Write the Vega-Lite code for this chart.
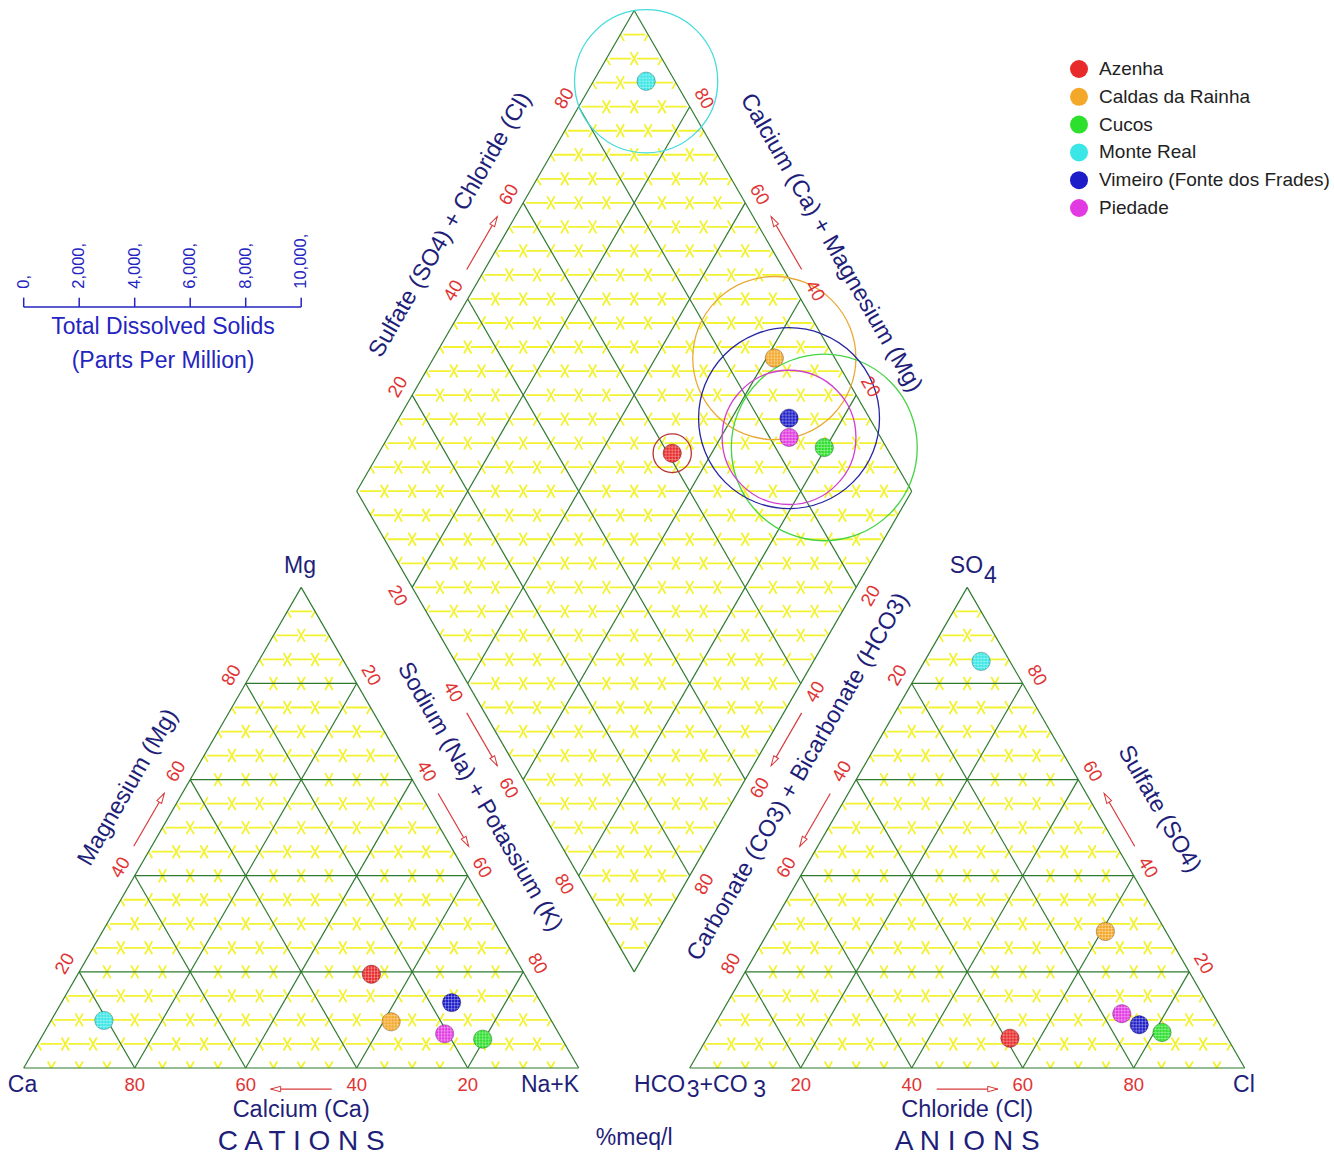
{
  "$schema": "https://vega.github.io/schema/vega-lite/v6.json",
  "width": 1334,
  "height": 1158,
  "padding": 0,
  "autosize": "none",
  "background": "white",
  "config": {
    "view": {"stroke": null},
    "text": {"font": "Liberation Sans"},
    "legend": {"labelFont": "Liberation Sans"}
  },
  "datasets": {
    "samples": [
      {"site": "Azenha", "Ca": 27.6, "Mg": 19.5, "NaK": 52.9, "HCO3": 39.2, "SO4": 6.2, "Cl": 54.6, "TDS": 690},
      {"site": "Caldas da Rainha", "Ca": 29.0, "Mg": 9.6, "NaK": 61.4, "HCO3": 10.9, "SO4": 28.4, "Cl": 60.7, "TDS": 2940},
      {"site": "Cucos", "Ca": 14.3, "Mg": 6.0, "NaK": 79.7, "HCO3": 11.2, "SO4": 7.4, "Cl": 81.4, "TDS": 3350},
      {"site": "Monte Real", "Ca": 80.6, "Mg": 9.9, "NaK": 9.5, "HCO3": 5.2, "SO4": 84.6, "Cl": 10.2, "TDS": 2580},
      {"site": "Vimeiro (Fonte dos Frades)", "Ca": 16.1, "Mg": 13.6, "NaK": 70.3, "HCO3": 14.5, "SO4": 9.0, "Cl": 76.5, "TDS": 3260},
      {"site": "Piedade", "Ca": 20.6, "Mg": 7.1, "NaK": 72.3, "HCO3": 16.5, "SO4": 11.3, "Cl": 72.2, "TDS": 2410}
    ],
    "lattice": [
      {"f": "h", "v": [0,5,10,15,20,25,30,35,40,45,50,55,60,65,70,75,80,85,90,95]},
      {"f": "b", "v": [0,5,10,15,20,25,30,35,40,45,50,55,60,65,70,75,80,85,90,95]},
      {"f": "c", "v": [0,5,10,15,20,25,30,35,40,45,50,55,60,65,70,75,80,85,90,95]},
      {"f": "n", "v": [0,5,10,15,20,25,30,35,40,45,50,55,60,65,70,75,80,85,90,95,100]},
      {"f": "s", "v": [0,5,10,15,20,25,30,35,40,45,50,55,60,65,70,75,80,85,90,95,100]},
      {"f": "L", "v": [25,30,35,40,45,50,55,60,65,70,75,80,85,90,95,100,105,110,115,120,125,130,135,140,145,150,155,160,165,170,175,180,185,190,195,200,205,210,215]}
    ],
    "edgeMarks": [
      {"e": "cb", "kind": "tick", "v": [20,40,60,80]},
      {"e": "cl", "kind": "tick", "v": [20,40,60,80]},
      {"e": "cr", "kind": "tick", "v": [20,40,60,80]},
      {"e": "ab", "kind": "tick", "v": [20,40,60,80]},
      {"e": "al", "kind": "tick", "v": [20,40,60,80]},
      {"e": "ar", "kind": "tick", "v": [20,40,60,80]},
      {"e": "dul", "kind": "tick", "v": [20,40,60,80]},
      {"e": "dur", "kind": "tick", "v": [20,40,60,80]},
      {"e": "dll", "kind": "tick", "v": [20,40,60,80]},
      {"e": "dlr", "kind": "tick", "v": [20,40,60,80]},
      {"e": "cb", "kind": "arrow", "v": [44.5,55.5]},
      {"e": "cl", "kind": "arrow", "v": [44.5,55.5]},
      {"e": "cr", "kind": "arrow", "v": [44.5,55.5]},
      {"e": "ab", "kind": "arrow", "v": [44.5,55.5]},
      {"e": "al", "kind": "arrow", "v": [44.5,55.5]},
      {"e": "ar", "kind": "arrow", "v": [44.5,55.5]},
      {"e": "dul", "kind": "arrow", "v": [44.5,55.5]},
      {"e": "dur", "kind": "arrow", "v": [44.5,55.5]},
      {"e": "dll", "kind": "arrow", "v": [44.5,55.5]},
      {"e": "dlr", "kind": "arrow", "v": [44.5,55.5]},
      {"e": "cl", "kind": "title", "v": [53.2], "d": 9.0, "t": "Magnesium (Mg)"},
      {"e": "cr", "kind": "title", "v": [48.8], "d": 9.0, "t": "Sodium (Na) + Potassium (K)"},
      {"e": "dul", "kind": "title", "v": [50.0], "d": 9.4, "t": "Sulfate (SO4) + Chloride (Cl)"},
      {"e": "dur", "kind": "title", "v": [46.0], "d": 9.8, "t": "Calcium (Ca) + Magnesium (Mg)"},
      {"e": "dlr", "kind": "title", "v": [54.8], "d": 8.0, "t": "Carbonate (CO3) + Bicarbonate (HCO3)"},
      {"e": "ar", "kind": "title", "v": [48.1], "d": 10.0, "t": "Sulfate (SO4)"},
      {"e": "cb", "kind": "title", "v": [50], "d": 7.6, "t": "Calcium (Ca)"},
      {"e": "ab", "kind": "title", "v": [50], "d": 7.6, "t": "Chloride (Cl)"},
      {"e": "cb", "kind": "caps", "v": [50], "d": 13.3, "t": "C A T I O N S"},
      {"e": "ab", "kind": "caps", "v": [50], "d": 13.3, "t": "A N I O N S"}
    ],
    "vertexLabels": [
      {"t": "Ca", "x": -0.22, "y": -3.06},
      {"t": "Na+K", "x": 94.83, "y": -3.06},
      {"t": "Mg", "x": 49.78, "y": 90.45},
      {"t": "Cl", "x": 219.87, "y": -3.06},
      {"t": "HCO", "x": 114.58, "y": -3.06},
      {"t": "3", "x": 120.6, "y": -4.02},
      {"t": "+CO", "x": 126.1, "y": -3.06},
      {"t": "3", "x": 132.6, "y": -4.02},
      {"t": "SO", "x": 169.86, "y": 90.45},
      {"t": "4", "x": 174.2, "y": 88.65},
      {"t": "%meq/l", "x": 110.0, "y": -12.61}
    ],
    "tdsTicks": [
      {"tds": 0}, {"tds": 2000}, {"tds": 4000}, {"tds": 6000}, {"tds": 8000}, {"tds": 10000}
    ],
    "tdsTitle": [
      {"t": "Total Dissolved Solids", "x": 25.1, "y": 133.5},
      {"t": "(Parts Per Million)", "x": 25.1, "y": 127.4}
    ]
  },
  "encoding": {
    "x": {"field": "x", "type": "quantitative", "axis": null, "scale": {"domain": [-4.27, 236.09], "nice": false, "zero": false}},
    "y": {"field": "y", "type": "quantitative", "axis": null, "scale": {"domain": [-16.22, 192.43], "nice": false, "zero": false}}
  },
  "layer": [
    {
      "data": {"name": "lattice"},
      "transform": [
        {"flatten": ["v"]},
        {"calculate": "indexof(['h','b','c'], datum.f) >= 0 ? [0, 120] : [0]", "as": "off"},
        {"flatten": ["off"]},
        {"calculate": "datum.f=='h' ? datum.off+datum.v/2 : datum.f=='b' ? datum.off+datum.v : datum.f=='c' ? datum.off+100-datum.v : datum.f=='n' ? (datum.v+120)/2 : datum.f=='s' ? (220+datum.v)/2 : (datum.v<=120 ? (240-datum.v)/2 : datum.v/2)", "as": "x"},
        {"calculate": "datum.f=='h' ? 0.8660254*datum.v : (datum.f=='b' || datum.f=='c') ? 0 : datum.f=='n' ? 0.8660254*(120-datum.v) : datum.f=='s' ? 0.8660254*(20+datum.v) : 0.8660254*datum.v", "as": "y"},
        {"calculate": "datum.f=='h' ? datum.off+100-datum.v/2 : datum.f=='b' ? datum.off+50+datum.v/2 : datum.f=='c' ? datum.off+(100-datum.v)/2 : datum.f=='n' ? (datum.v+220)/2 : datum.f=='s' ? (120+datum.v)/2 : (datum.v<=120 ? (200+datum.v)/2 : (440-datum.v)/2)", "as": "x2"},
        {"calculate": "datum.f=='h' ? 0.8660254*datum.v : (datum.f=='b' || datum.f=='c') ? 0.8660254*(100-datum.v) : datum.f=='n' ? 0.8660254*(220-datum.v) : datum.f=='s' ? 0.8660254*(120+datum.v) : 0.8660254*datum.v", "as": "y2"}
      ],
      "layer": [
        {
          "transform": [{"filter": "(datum.f == 'h' || datum.f == 'L') && (datum.f == 'L' || datum.v % 20 != 0)"}],
          "mark": {"type": "rule", "stroke": "#f2f230", "strokeWidth": 1.8, "strokeDash": [21.75, 6], "strokeDashOffset": 24.75},
          "encoding": {"x2": {"field": "x2"}, "y2": {"field": "y2"}}
        },
        {
          "transform": [{"filter": "datum.f != 'h' && datum.f != 'L' && datum.v % 20 != 0"}],
          "mark": {"type": "rule", "stroke": "#f2f230", "strokeWidth": 1.8, "strokeDash": [15, 12.75], "strokeDashOffset": 7.5},
          "encoding": {"x2": {"field": "x2"}, "y2": {"field": "y2"}}
        },
        {
          "transform": [{"filter": "datum.f != 'L' && datum.v % 20 == 0"}],
          "mark": {"type": "rule", "stroke": "#2f7a2f", "strokeWidth": 1.2},
          "encoding": {"x2": {"field": "x2"}, "y2": {"field": "y2"}}
        }
      ]
    },
    {
      "data": {"name": "samples"},
      "transform": [
        {"calculate": "(datum.NaK + 120 + datum.Cl + datum.SO4) / 2", "as": "x"},
        {"calculate": "0.8660254 * (120 + datum.Cl + datum.SO4 - datum.NaK)", "as": "y"}
      ],
      "mark": {"type": "point", "shape": "circle", "filled": false, "strokeWidth": 1.3, "opacity": 1},
      "encoding": {
        "size": {"field": "TDS", "type": "quantitative", "scale": {"type": "pow", "exponent": 2, "domain": [0, 10000], "range": [0, 308025]}, "legend": null},
        "stroke": {
          "field": "site", "type": "nominal",
          "scale": {"range": ["#b83232", "#e8aa3a", "#44d444", "#46dcdc", "#d040d0", "#2626a0"]},
          "legend": null
        }
      }
    },
    {
      "data": {"name": "samples"},
      "transform": [
        {"calculate": "['c','a','d']", "as": "part"},
        {"flatten": ["part"]},
        {"calculate": "datum.part=='c' ? datum.NaK + datum.Mg/2 : datum.part=='a' ? 120 + datum.Cl + datum.SO4/2 : (datum.NaK + 120 + datum.Cl + datum.SO4)/2", "as": "x"},
        {"calculate": "datum.part=='c' ? 0.8660254*datum.Mg : datum.part=='a' ? 0.8660254*datum.SO4 : 0.8660254*(120 + datum.Cl + datum.SO4 - datum.NaK)", "as": "y"}
      ],
      "layer": [
        {
          "mark": {"type": "point", "shape": "circle", "filled": true, "size": 340, "opacity": 1},
          "encoding": {
            "color": {
              "field": "site", "type": "nominal",
              "scale": {
                "domain": ["Azenha", "Caldas da Rainha", "Cucos", "Monte Real", "Vimeiro (Fonte dos Frades)", "Piedade"],
                "range": ["#e82a2a", "#f4a82a", "#2ee02e", "#3ae6e6", "#1c1cc8", "#e23ae2"]
              },
              "legend": {
                "orient": "none", "legendX": 1069, "legendY": 59, "title": null,
                "labelFontSize": 19, "labelColor": "#222222", "labelLimit": 400, "labelOffset": 10,
                "symbolType": "circle", "symbolSize": 324, "rowPadding": 7.8
              }
            }
          }
        },
        {
          "mark": {"type": "point", "shape": "circle", "filled": false, "size": 340, "opacity": 1, "stroke": "#000000", "strokeOpacity": 0.25, "strokeWidth": 1}
        },
        {
          "mark": {
            "type": "point",
            "shape": "M-0.95,0H0.95M-0.9,-0.33H0.9M-0.9,0.33H0.9M-0.7,-0.67H0.7M-0.7,0.67H0.7M0,-0.95V0.95M-0.33,-0.9V0.9M0.33,-0.9V0.9M-0.67,-0.7V0.7M0.67,-0.7V0.7",
            "filled": false, "size": 340, "opacity": 1, "stroke": "#ffffff", "strokeOpacity": 0.4, "strokeWidth": 0.8
          }
        }
      ]
    },
    {
      "data": {"name": "edgeMarks"},
      "transform": [
        {"flatten": ["v"]},
        {"calculate": "datum.e=='cb' || datum.e=='ab'", "as": "flat"},
        {"calculate": "datum.e=='cb' ? 100-datum.v : datum.e=='ab' ? 120+datum.v : datum.e=='cl' ? datum.v/2 : datum.e=='cr' ? 50+datum.v/2 : datum.e=='al' ? 170-datum.v/2 : datum.e=='ar' ? 220-datum.v/2 : (datum.e=='dul' || datum.e=='dll') ? (120+datum.v)/2 : (320-datum.v)/2", "as": "bx"},
        {"calculate": "datum.flat ? 0 : (datum.e=='cl' || datum.e=='ar') ? 0.8660254*datum.v : (datum.e=='cr' || datum.e=='al') ? 0.8660254*(100-datum.v) : (datum.e=='dul' || datum.e=='dur') ? 0.8660254*(120+datum.v) : 0.8660254*(120-datum.v)", "as": "by"},
        {"calculate": "datum.flat ? 0 : indexof(['cl','al','dul','dll'], datum.e) >= 0 ? -0.8660254 : 0.8660254", "as": "nx"},
        {"calculate": "datum.flat ? -1 : (datum.e=='dll' || datum.e=='dlr') ? -0.5 : 0.5", "as": "ny"},
        {"calculate": "datum.kind=='tick' ? (datum.flat ? 3.06 : 3.0) : datum.kind=='arrow' ? (datum.flat ? 3.8 : 2.8) : datum.d", "as": "dist"},
        {"calculate": "datum.bx + datum.nx*datum.dist", "as": "x"},
        {"calculate": "datum.by + datum.ny*datum.dist", "as": "y"},
        {"calculate": "datum.flat ? 0 : indexof(['cl','al','dul','dlr'], datum.e) >= 0 ? -60 : 60", "as": "rot"},
        {"calculate": "datum.e=='cb' ? 180 : datum.e=='ab' ? 0 : (datum.e=='cl' || datum.e=='dul') ? -60 : (datum.e=='cr' || datum.e=='dll') ? 60 : (datum.e=='al' || datum.e=='dlr') ? 120 : -120", "as": "dir"}
      ],
      "layer": [
        {
          "transform": [{"filter": "datum.kind == 'arrow'"}],
          "mark": {"type": "line", "stroke": "#d83a3a", "strokeWidth": 1.2},
          "encoding": {"detail": {"field": "e"}, "order": {"field": "v", "type": "quantitative"}}
        },
        {
          "transform": [{"filter": "datum.kind == 'arrow' && datum.v > 50"}],
          "mark": {"type": "point", "shape": "M0,0L-2,-0.55L-2,0.55Z", "filled": true, "fill": "#ffffff", "stroke": "#d83a3a", "strokeWidth": 1, "size": 100, "opacity": 1},
          "encoding": {"angle": {"field": "dir", "type": "quantitative", "scale": null}}
        },
        {
          "transform": [{"filter": "datum.kind == 'tick'"}],
          "mark": {"type": "text", "fontSize": 18.5, "color": "#e03333", "align": "center", "baseline": "middle"},
          "encoding": {"text": {"field": "v", "type": "nominal"}, "angle": {"field": "rot", "type": "quantitative", "scale": null}}
        },
        {
          "transform": [{"filter": "datum.kind == 'title'"}],
          "mark": {"type": "text", "fontSize": 23.5, "color": "#1f1f7a", "align": "center", "baseline": "middle"},
          "encoding": {"text": {"field": "t", "type": "nominal"}, "angle": {"field": "rot", "type": "quantitative", "scale": null}}
        },
        {
          "transform": [{"filter": "datum.kind == 'caps'"}],
          "mark": {"type": "text", "fontSize": 28, "color": "#1f1f7a", "align": "center", "baseline": "middle"},
          "encoding": {"text": {"field": "t", "type": "nominal"}}
        }
      ]
    },
    {
      "data": {"name": "vertexLabels"},
      "mark": {"type": "text", "fontSize": 23, "color": "#1f1f7a", "align": "center", "baseline": "middle"},
      "encoding": {"text": {"field": "t", "type": "nominal"}}
    },
    {
      "data": {"name": "tdsTicks"},
      "transform": [
        {"calculate": "datum.tds / 200", "as": "x"},
        {"calculate": "137.1", "as": "y"},
        {"calculate": "138.8", "as": "ytop"},
        {"calculate": "140.4", "as": "ylab"},
        {"calculate": "format(datum.tds, ',') + ','", "as": "lab"}
      ],
      "layer": [
        {
          "mark": {"type": "line", "stroke": "#2424c0", "strokeWidth": 1.5},
          "encoding": {"order": {"field": "tds", "type": "quantitative"}}
        },
        {
          "mark": {"type": "rule", "stroke": "#2424c0", "strokeWidth": 1.5},
          "encoding": {"y2": {"field": "ytop"}}
        },
        {
          "mark": {"type": "text", "angle": 270, "align": "left", "baseline": "middle", "fontSize": 16.5, "color": "#2424c0"},
          "encoding": {
            "y": {"field": "ylab", "type": "quantitative", "axis": null, "scale": {"domain": [-16.22, 192.43], "nice": false, "zero": false}},
            "text": {"field": "lab", "type": "nominal"}
          }
        }
      ]
    },
    {
      "data": {"name": "tdsTitle"},
      "mark": {"type": "text", "fontSize": 23, "color": "#2424c0", "align": "center", "baseline": "middle"},
      "encoding": {"text": {"field": "t", "type": "nominal"}}
    }
  ]
}
